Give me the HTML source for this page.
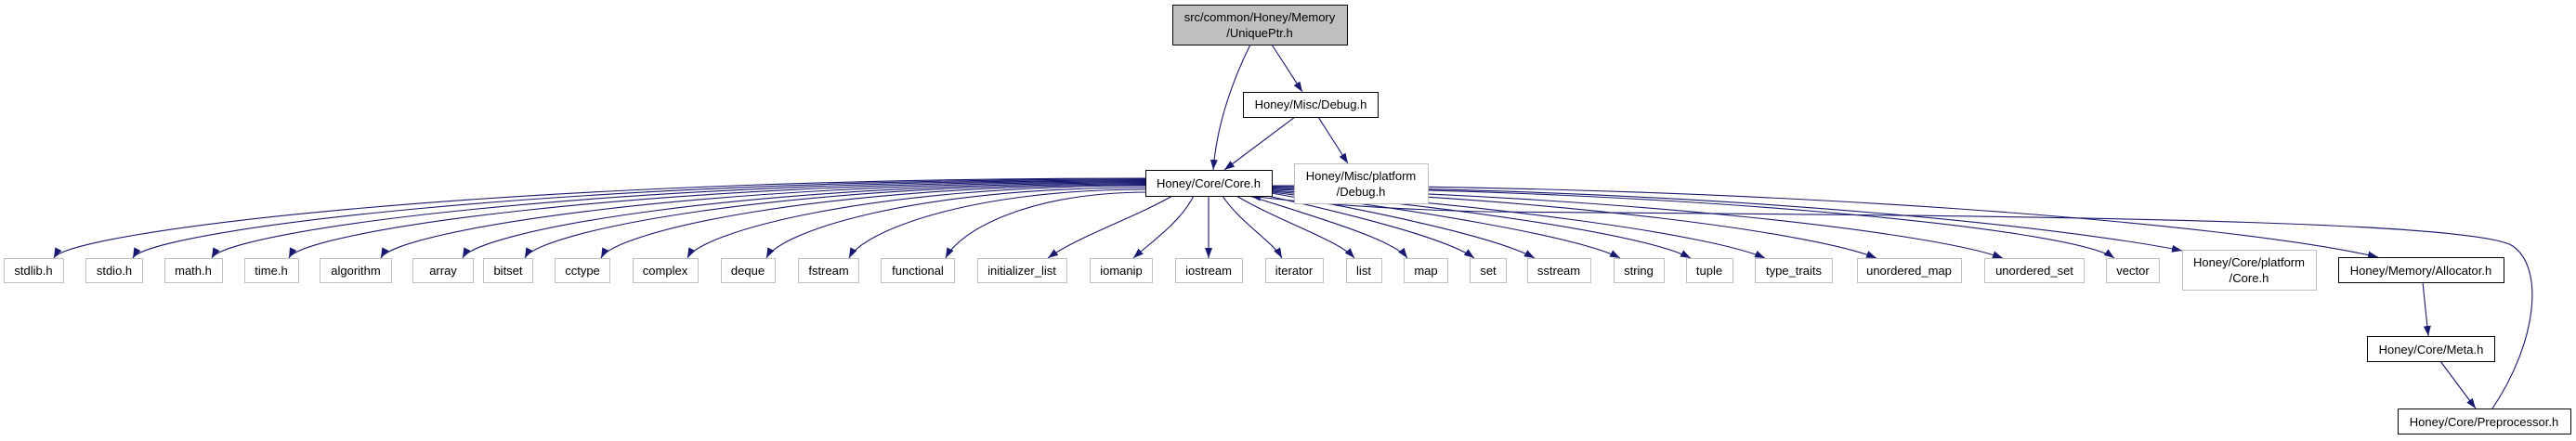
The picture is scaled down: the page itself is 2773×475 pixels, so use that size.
<!DOCTYPE html>
<html><head><meta charset="utf-8"><style>
html,body{margin:0;padding:0;background:#fff;}
svg{display:block;}
text{font-family:"Liberation Sans",Arial,sans-serif;font-size:13px;fill:#000;text-anchor:middle;}
.e{fill:none;stroke:#191970;stroke-width:1.1;marker-end:url(#a);}
.n{fill:#fff;stroke:#000;stroke-width:1;}
.g{fill:#fff;stroke:#bfbfbf;stroke-width:1;}
</style></head><body>
<svg width="2773" height="475" viewBox="0 0 2773 475" xmlns="http://www.w3.org/2000/svg">
<defs><marker id="a" markerUnits="userSpaceOnUse" markerWidth="11" markerHeight="8" refX="11" refY="4" orient="auto"><path d="M0,0 L11,4 L0,8 z" fill="#191970"/></marker></defs>
<path class="e" d="M1346,48 C1330,80 1310,130 1306,183"/>
<path class="e" d="M1369,48 L1402,99"/>
<path class="e" d="M1394,126 L1318,183"/>
<path class="e" d="M1419,126 L1451,176"/>
<path class="e" d="M1233,192 C526,192 72,250 58,278"/>
<path class="e" d="M1233,193 C577,193 157,250 143,278"/>
<path class="e" d="M1233,194 C628,194 242,250 228,278"/>
<path class="e" d="M1233,195 C681,195 324,250 311,278"/>
<path class="e" d="M1233,196 C736,196 424,250 410,278"/>
<path class="e" d="M1233,197 C790,197 512,250 498,278"/>
<path class="e" d="M1233,198 C832,198 579,250 565,278"/>
<path class="e" d="M1233,199 C880,199 661,250 647,278"/>
<path class="e" d="M1233,200 C936,200 754,250 740,278"/>
<path class="e" d="M1233,202 C982,202 839,250 825,278"/>
<path class="e" d="M1234,204 C1041,204 928,250 914,278"/>
<path class="e" d="M1238,207 C1103,207 1032,250 1018,278"/>
<path class="e" d="M1262,211 C1220,235 1160,255 1128,278"/>
<path class="e" d="M1285,211 C1270,240 1240,260 1220,278"/>
<path class="e" d="M1301,211 L1301,278"/>
<path class="e" d="M1316,211 C1335,240 1370,260 1380,278"/>
<path class="e" d="M1331,211 C1380,240 1440,258 1458,278"/>
<path class="e" d="M1345,211 C1420,235 1500,258 1515,278"/>
<path class="e" d="M1360,210 C1460,232 1560,258 1587,278"/>
<path class="e" d="M1369,208 C1480,228 1610,255 1652,278"/>
<path class="e" d="M1369,207 C1520,225 1700,255 1744,278"/>
<path class="e" d="M1369,206 C1560,222 1770,252 1820,278"/>
<path class="e" d="M1369,205 C1600,220 1840,252 1900,278"/>
<path class="e" d="M1369,204 C1680,215 1950,250 2020,278"/>
<path class="e" d="M1369,203 C1750,212 2080,250 2156,278"/>
<path class="e" d="M1369,202 C1800,205 2230,245 2276,278"/>
<path class="e" d="M1369,201 C1900,205 2250,250 2349,270"/>
<path class="e" d="M1369,200 C1900,200 2400,240 2560,277"/>
<path class="e" d="M2608,304 L2614,362"/>
<path class="e" d="M2627,389 L2665,440"/>
<path class="e" d="M2683,440 C2730,370 2740,290 2705,265 C2660,235 2100,232 1600,228 C1480,225 1400,218 1346,211"/>

<rect class="n" x="1262.5" y="5.5" width="188" height="43" style="fill:#bfbfbf"/>
<text x="1356" y="23">src/common/Honey/Memory</text><text x="1356" y="40">/UniquePtr.h</text>
<rect class="n" x="1338.5" y="99.5" width="145" height="27"/><text x="1411" y="117">Honey/Misc/Debug.h</text>
<rect class="n" x="1233.5" y="183.5" width="136" height="28"/><text x="1301" y="202">Honey/Core/Core.h</text>
<rect class="g" x="1393.5" y="176.5" width="144" height="43"/><text x="1465" y="194">Honey/Misc/platform</text><text x="1465" y="211">/Debug.h</text>
<rect class="g" x="2349.5" y="269.5" width="144" height="43"/><text x="2421" y="287">Honey/Core/platform</text><text x="2421" y="304">/Core.h</text>
<rect class="n" x="2517.5" y="277.5" width="178" height="27"/><text x="2606" y="296">Honey/Memory/Allocator.h</text>
<rect class="n" x="2548.5" y="362.5" width="137" height="27"/><text x="2617" y="381">Honey/Core/Meta.h</text>
<rect class="n" x="2581.5" y="440.5" width="186" height="27"/><text x="2674" y="459">Honey/Core/Preprocessor.h</text>

<g>
<rect class="g" x="4.5" y="278.5" width="64" height="26"/><text x="36" y="296">stdlib.h</text>
<rect class="g" x="92.5" y="278.5" width="61" height="26"/><text x="123" y="296">stdio.h</text>
<rect class="g" x="177.5" y="278.5" width="62" height="26"/><text x="208" y="296">math.h</text>
<rect class="g" x="263.5" y="278.5" width="58" height="26"/><text x="292" y="296">time.h</text>
<rect class="g" x="344.5" y="278.5" width="77" height="26"/><text x="383" y="296">algorithm</text>
<rect class="g" x="444.5" y="278.5" width="65" height="26"/><text x="477" y="296">array</text>
<rect class="g" x="520.5" y="278.5" width="53" height="26"/><text x="547" y="296">bitset</text>
<rect class="g" x="597.5" y="278.5" width="59" height="26"/><text x="627" y="296">cctype</text>
<rect class="g" x="681.5" y="278.5" width="70" height="26"/><text x="716" y="296">complex</text>
<rect class="g" x="776.5" y="278.5" width="58" height="26"/><text x="805" y="296">deque</text>
<rect class="g" x="859.5" y="278.5" width="65" height="26"/><text x="892" y="296">fstream</text>
<rect class="g" x="948.5" y="278.5" width="79" height="26"/><text x="988" y="296">functional</text>
<rect class="g" x="1052.5" y="278.5" width="96" height="26"/><text x="1100" y="296">initializer_list</text>
<rect class="g" x="1173.5" y="278.5" width="67" height="26"/><text x="1207" y="296">iomanip</text>
<rect class="g" x="1265.5" y="278.5" width="72" height="26"/><text x="1301" y="296">iostream</text>
<rect class="g" x="1362.5" y="278.5" width="62" height="26"/><text x="1393" y="296">iterator</text>
<rect class="g" x="1449.5" y="278.5" width="38" height="26"/><text x="1468" y="296">list</text>
<rect class="g" x="1511.5" y="278.5" width="47" height="26"/><text x="1535" y="296">map</text>
<rect class="g" x="1582.5" y="278.5" width="39" height="26"/><text x="1602" y="296">set</text>
<rect class="g" x="1644.5" y="278.5" width="68" height="26"/><text x="1678" y="296">sstream</text>
<rect class="g" x="1737.5" y="278.5" width="54" height="26"/><text x="1764" y="296">string</text>
<rect class="g" x="1815.5" y="278.5" width="50" height="26"/><text x="1840" y="296">tuple</text>
<rect class="g" x="1889.5" y="278.5" width="83" height="26"/><text x="1931" y="296">type_traits</text>
<rect class="g" x="1999.5" y="278.5" width="112" height="26"/><text x="2055" y="296">unordered_map</text>
<rect class="g" x="2136.5" y="278.5" width="107" height="26"/><text x="2190" y="296">unordered_set</text>
<rect class="g" x="2267.5" y="278.5" width="57" height="26"/><text x="2296" y="296">vector</text>
</g>
</svg>
</body></html>
